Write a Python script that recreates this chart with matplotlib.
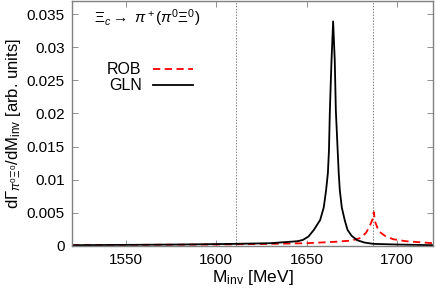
import matplotlib
matplotlib.use('Agg')
import matplotlib.pyplot as plt

plt.rcParams['font.family'] = ['Liberation Sans', 'DejaVu Sans']
plt.rcParams['mathtext.fontset'] = 'custom'
plt.rcParams['mathtext.rm'] = 'Liberation Sans'
plt.rcParams['mathtext.it'] = 'Liberation Sans:italic'

# GLN curve
m_gln = [1520, 1580, 1610, 1630, 1640, 1645, 1648, 1651, 1654, 1657.5,
         1659.5, 1660.8, 1661.8, 1662.4, 1662.9, 1663.8, 1664.7, 1665.6,
         1666.2, 1667.2, 1667.8, 1668.4, 1669.5, 1671.1, 1672.7, 1675, 1678,
         1682, 1687, 1700, 1720]
y_gln = [0.0001, 0.0002, 0.0003, 0.0004, 0.0006, 0.0007, 0.0009, 0.0014,
         0.0024, 0.0039, 0.0058, 0.0084, 0.0110, 0.0145, 0.0205, 0.0280,
         0.0339, 0.0280, 0.0205, 0.0145, 0.0110, 0.0084, 0.0058, 0.0039,
         0.0024, 0.0015, 0.00086, 0.0005, 0.0003, 0.0002, 0.0001]

# ROB curve
m_rob = [1520, 1560, 1600, 1630, 1650, 1665, 1675, 1680, 1683, 1685, 1686.5,
         1687.2, 1688, 1690, 1694, 1698, 1705, 1720]
y_rob = [0.0001, 0.00015, 0.0002, 0.0003, 0.0004, 0.0006, 0.0008, 0.0012,
         0.0020, 0.0030, 0.0040, 0.0051, 0.0036, 0.0022, 0.0014, 0.0010,
         0.0007, 0.0004]

thresholds = [1611, 1687]

fig = plt.figure(figsize=(4.36, 2.98), dpi=100)
ax = fig.add_axes([0.165, 0.175, 0.828, 0.822])

for t in thresholds:
    ax.axvline(t, color='gray', lw=0.7, ls=(0, (1.5, 1.5)))

ax.plot(m_rob, y_rob, color='red', lw=1.3, ls=(0, (4, 2.5)), label='ROB')
ax.plot(m_gln, y_gln, color='black', lw=1.3, label='GLN')

ax.set_xlim(1520, 1720)
ax.set_ylim(0, 0.037)
ax.set_xticks([1550, 1600, 1650, 1700])
ax.set_yticks([0, 0.005, 0.01, 0.015, 0.02, 0.025, 0.03, 0.035])
ax.set_yticklabels(['0', '0.005', '0.01', '0.015', '0.02', '0.025', '0.03', '0.035'])
ax.tick_params(direction='in', top=True, right=True, labelsize=11,
               color='gray', length=4, width=0.6, pad=5)
for s in ax.spines.values():
    s.set_color('gray')
    s.set_linewidth(1.0)

ax.set_xlabel(r'M$_{\rm inv}$ [MeV]', fontsize=12.5, labelpad=1)
ax.set_ylabel(r'd$\Gamma_{\pi^0\Xi^0}$/dM$_{\rm inv}$ [arb. units]', fontsize=12, labelpad=3)

ax.text(0.06, 0.93, r'$\Xi_c \rightarrow\ \pi^+(\pi^0\Xi^0)$', transform=ax.transAxes,
        fontsize=11, va='center', ha='left')

ax.legend(loc='upper left', bbox_to_anchor=(0.08, 0.775), frameon=False,
          markerfirst=False, fontsize=11.5, handlelength=2.5, labelspacing=0.05,
          handletextpad=0.7, borderaxespad=0)

fig.savefig('out.png', dpi=100)
